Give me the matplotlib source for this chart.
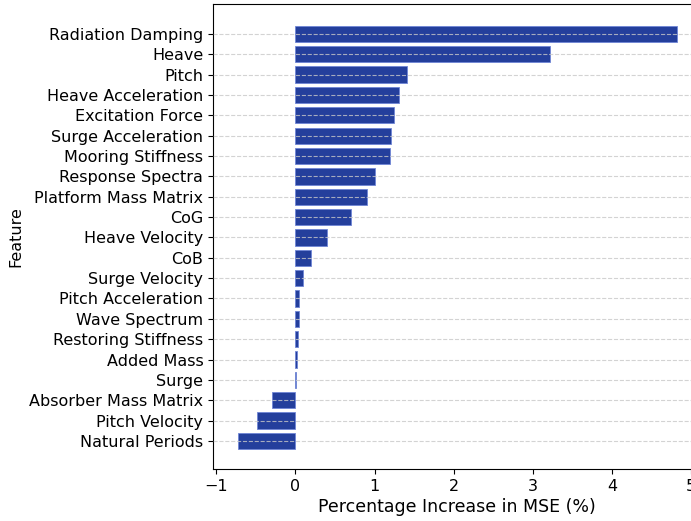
import numpy as np
import matplotlib.pyplot as plt

features = ["Radiation Damping", "Heave", "Pitch", "Heave Acceleration",
            "Excitation Force", "Surge Acceleration", "Mooring Stiffness",
            "Response Spectra", "Platform Mass Matrix", "CoG", "Heave Velocity",
            "CoB", "Surge Velocity", "Pitch Acceleration", "Wave Spectrum",
            "Restoring Stiffness", "Added Mass", "Surge", "Absorber Mass Matrix",
            "Pitch Velocity", "Natural Periods"]
mse_increase = [4.82, 3.21, 1.41, 1.31, 1.25, 1.21, 1.20, 1.01, 0.91, 0.70,
                0.40, 0.20, 0.10, 0.05, 0.04, 0.03, 0.02, 0.01, -0.30, -0.49,
                -0.73]

bar_color = '#243f9c'
fs = 11.5

fig = plt.figure(figsize=(6.91, 5.21), dpi=100)
# axes run past the right edge, like the cropped original
ax = fig.add_axes([213/691, 1 - 469/521, (700 - 213)/691, (469 - 4)/521])

y = np.arange(len(features))
ax.barh(y, mse_increase, height=0.8, color=bar_color,
        edgecolor='#6f86d6', linewidth=0.6)
ax.set_yticks(y)
ax.set_yticklabels(features, fontsize=fs)
ax.set_ylim(len(features) - 1 + 1.38, -1.47)
ax.set_xlim(-1.04, 5.11)
ax.set_xticks([-1, 0, 1, 2, 3, 4, 5])
ax.tick_params(axis='x', labelsize=fs)

ax.set_axisbelow(False)
ax.grid(True, axis='y', linestyle='--', color='#c8c8c8', alpha=0.8)

ax.set_xlabel("Percentage Increase in MSE (%)", fontsize=12.5, labelpad=3)
ax.set_ylabel("Feature", fontsize=fs)

fig.savefig("out.png", dpi=100)
